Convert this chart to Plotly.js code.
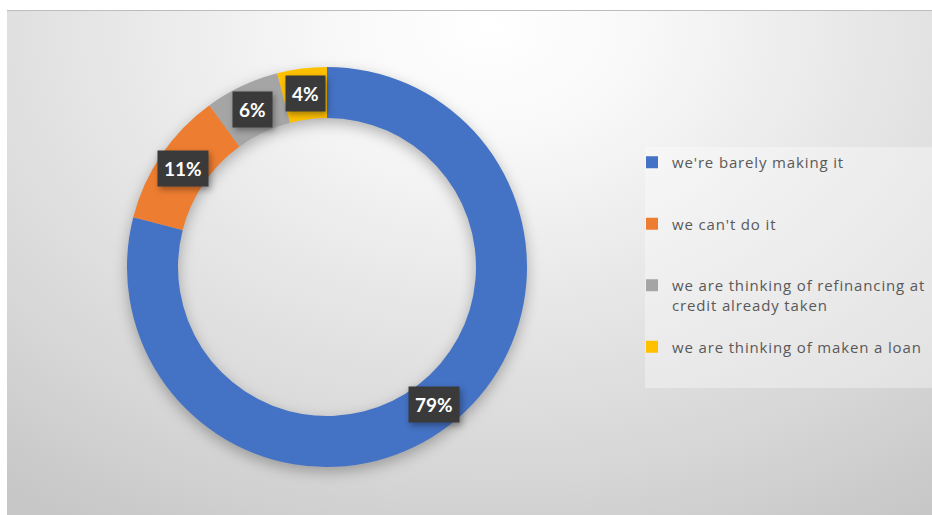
<!DOCTYPE html>
<html>
<head>
<meta charset="utf-8">
<script src="https://cdn.plot.ly/plotly-3.0.1.min.js"></script>
<style>
  html, body { margin: 0; padding: 0; background: #ffffff; }
  #wrap { position: relative; width: 932px; height: 515px; overflow: hidden; }
  #bg {
    position: absolute; left: 7px; top: 10px; width: 925px; height: 505px;
    border-top: 1px solid #bdbdbd; box-sizing: border-box;
    background: radial-gradient(ellipse 85% 115% at 52% 3%, #ffffff 0%, #f8f8f8 20%, #e6e6e6 50%, #d6d6d6 78%, #c7c7c7 100%);
  }
  #chart { position: absolute; left: 0; top: 0; width: 932px; height: 515px; }
  .pielayer .trace { filter: drop-shadow(0px 5px 7px rgba(0,0,0,0.28)); }
  .annotation rect.bg { filter: drop-shadow(2px 3px 3px rgba(0,0,0,0.35)); }
  .legend .legendtext { letter-spacing: 0.85px; }
  .legend .scrollbox, .legend g { clip-path: none !important; }
</style>
</head>
<body>
<div id="wrap">
  <div id="bg"></div>
  <div id="chart"></div>
</div>
<script>
// ---- data ----
const categories = [
  "we're barely making it",
  "we can't do it",
  "we are thinking of refinancing at credit already taken",
  "we are thinking of maken a loan"
];
const legendText = [
  "we're barely making it",
  "we can't do it",
  "we are thinking of refinancing at<br>credit already taken",
  "we are thinking of maken a loan"
];
const values = [79, 11, 6, 4];

// ---- styling ----
const colors = ['#4472C4', '#ED7D31', '#A5A5A5', '#FFC000'];
const W = 932, H = 515;
const cxPx = 327, cyPx = 267, rPx = 200, hole = 0.745;

// legend labels padded with blank lines for Excel-like spacing
const legendLabels = legendText.map((t, i) => {
  if (i === legendText.length - 1) return t;
  const n = t.split('<br>').length;
  return t + '<br> '.repeat(Math.max(0, 3 - n));
});

const total = values.reduce((a, b) => a + b, 0);
const midR = rPx * (1 + hole) / 2;
let cum = 0;
const annotations = values.map((v) => {
  const f = (cum + v / 2) / total;
  cum += v;
  const th = 2 * Math.PI * f;
  const px = cxPx + midR * Math.sin(th);
  const py = cyPx - midR * Math.cos(th);
  return {
    xref: 'paper', yref: 'paper',
    x: px / W, y: 1 - py / H,
    xanchor: 'center', yanchor: 'middle',
    text: '<b>' + Math.round(v / total * 100) + '%</b>',
    showarrow: false,
    font: {family: 'Lato, "Open Sans", sans-serif', size: 19, color: '#ffffff'},
    bgcolor: '#3a3a3a',
    borderpad: 6
  };
});

const trace = {
  type: 'pie',
  labels: legendLabels,
  values: values,
  hole: hole,
  sort: false,
  direction: 'clockwise',
  rotation: 0,
  textinfo: 'none',
  hoverinfo: 'label+percent',
  marker: {colors: colors, line: {width: 0}},
  domain: {
    x: [(cxPx - rPx) / W, (cxPx + rPx) / W],
    y: [(H - cyPx - rPx) / H, (H - cyPx + rPx) / H]
  }
};

const layout = {
  width: W, height: H,
  margin: {l: 0, r: 0, t: 0, b: 0},
  paper_bgcolor: 'rgba(0,0,0,0)',
  plot_bgcolor: 'rgba(0,0,0,0)',
  showlegend: true,
  legend: {
    x: 632 / W, xanchor: 'left',
    y: (H - 146) / H, yanchor: 'top',
    bgcolor: 'rgba(0,0,0,0)',
    valign: 'top',
    font: {family: '"Open Sans", Lato, sans-serif', size: 15, color: '#595959'}
  },
  shapes: [{
    type: 'rect', xref: 'paper', yref: 'paper', layer: 'below',
    x0: 645 / W, x1: 1, y0: (H - 388) / H, y1: (H - 147) / H,
    fillcolor: 'rgba(255,255,255,0.35)', line: {width: 0}
  }],
  annotations: annotations
};

Plotly.newPlot('chart', [trace], layout, {displayModeBar: false});
</script>
</body>
</html>
